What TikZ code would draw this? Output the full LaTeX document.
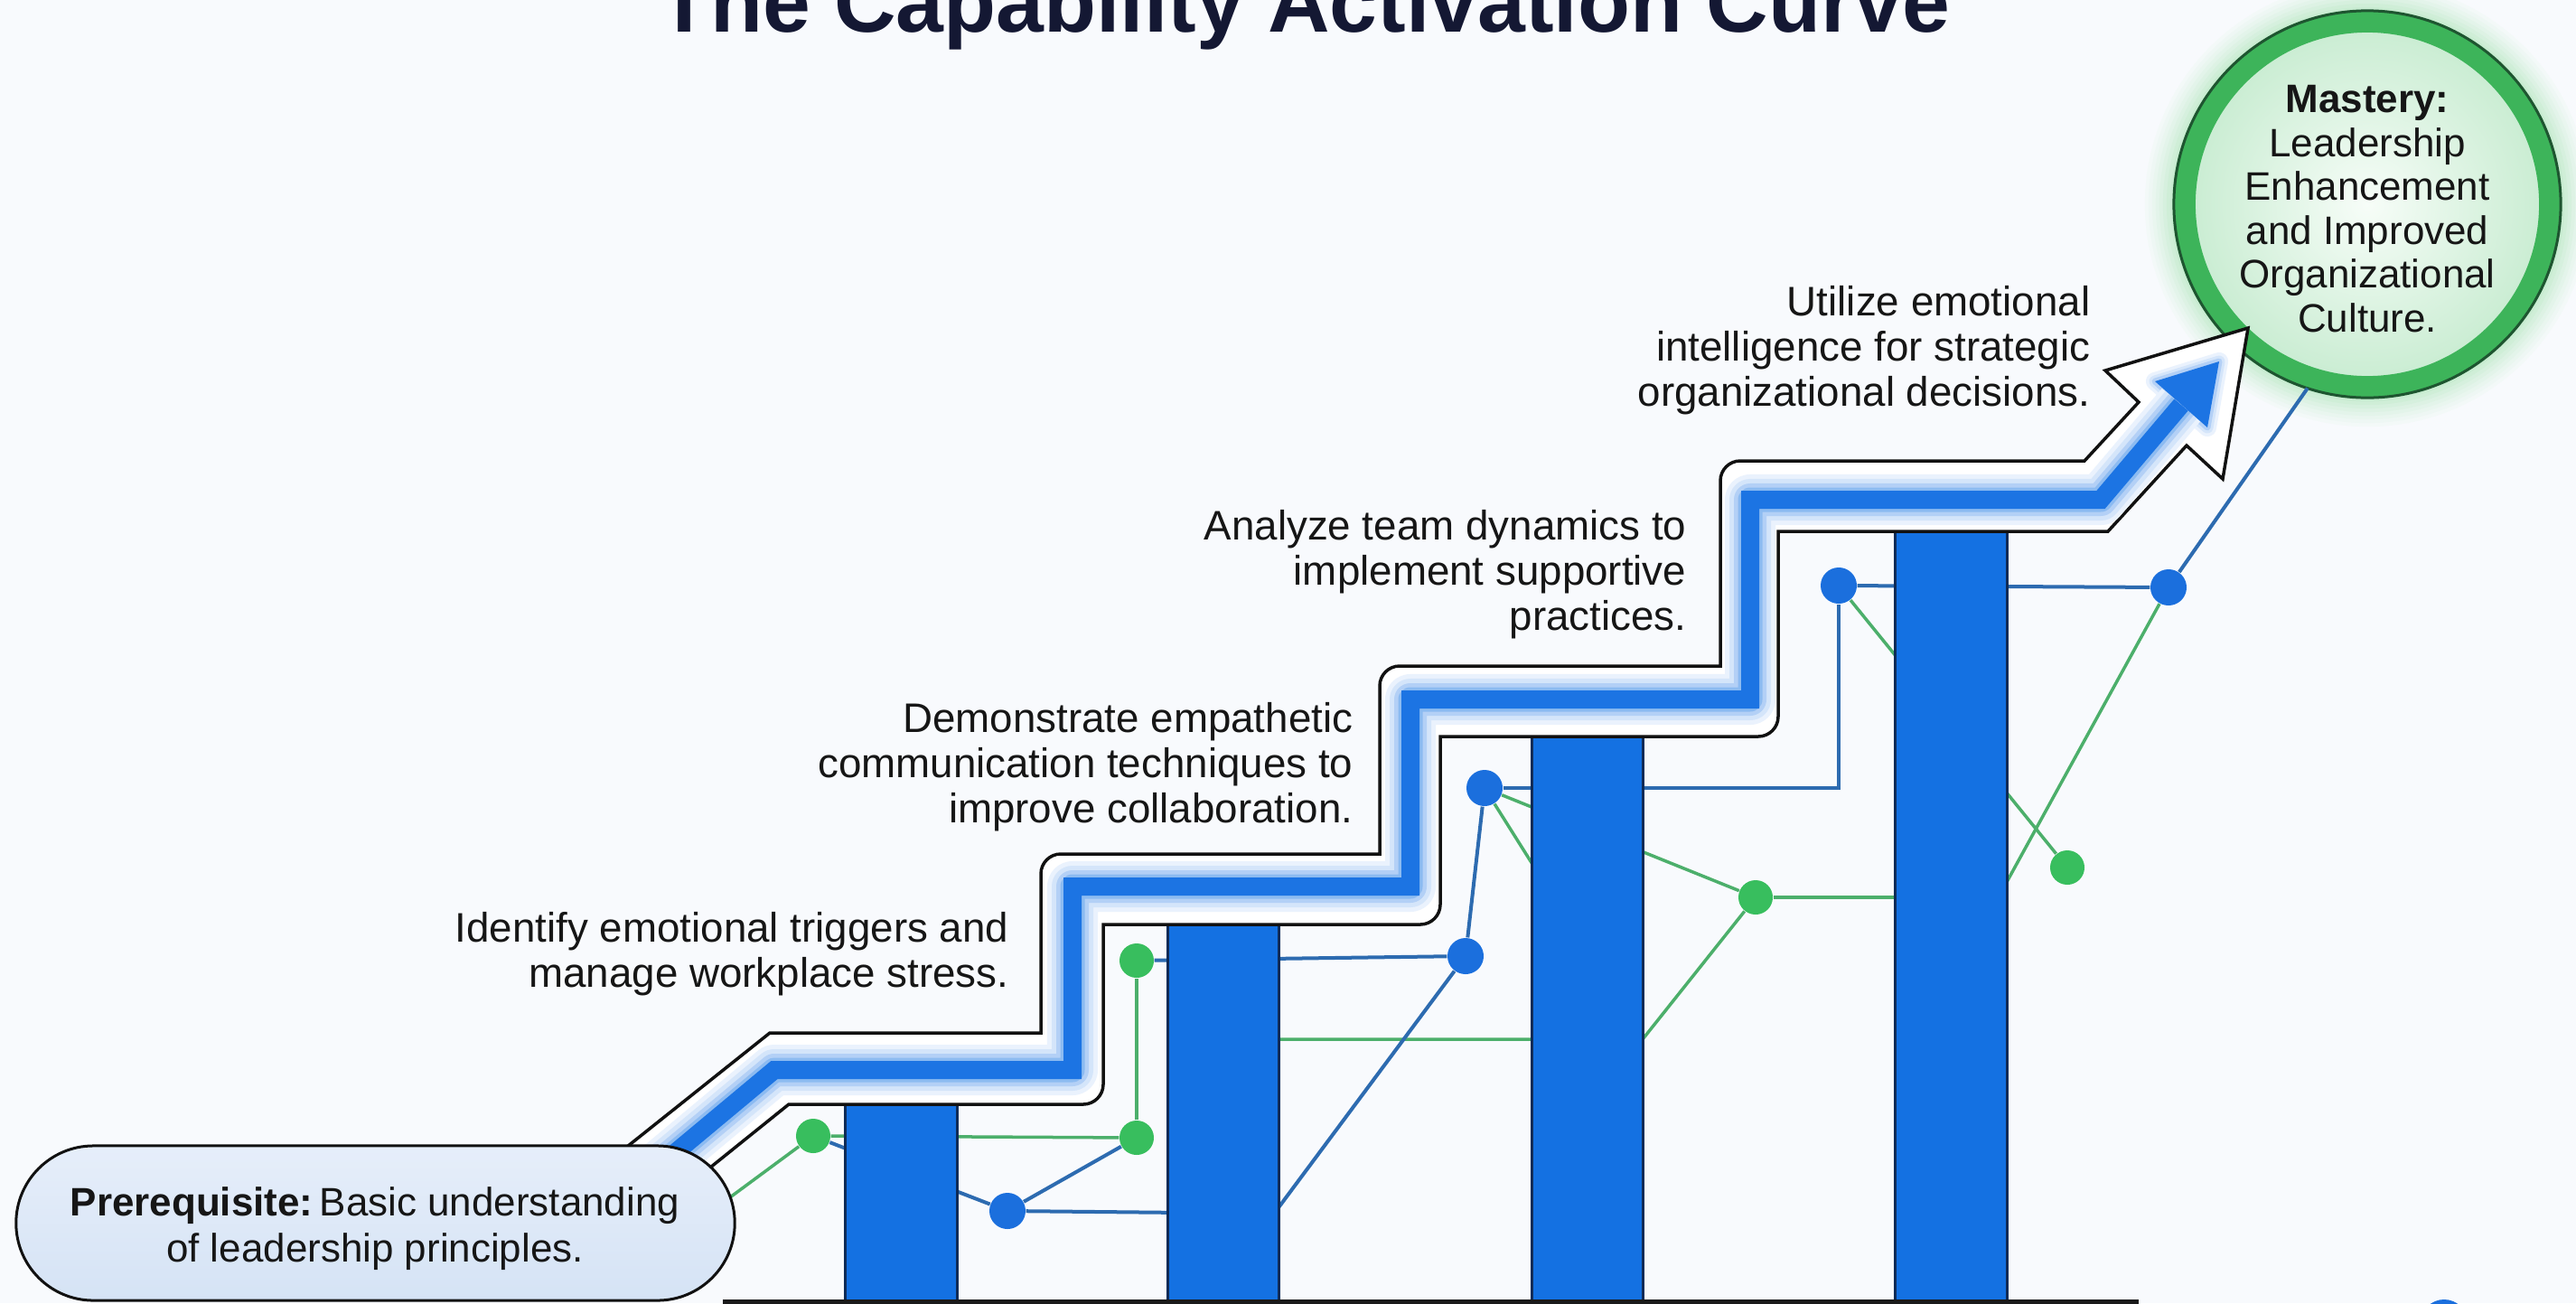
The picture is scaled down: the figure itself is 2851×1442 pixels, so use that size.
\documentclass[tikz,border=0pt]{standalone}
\usepackage{fontspec}
\setmainfont{Liberation Sans}
\definecolor{bgc}{HTML}{F8FAFD}
\definecolor{titlec}{HTML}{141833}
\definecolor{textc}{HTML}{161616}
\definecolor{barblue}{HTML}{1471E2}
\definecolor{barnavy}{HTML}{0E2B57}
\definecolor{bluedot}{HTML}{1B6FDD}
\definecolor{blueline}{HTML}{2D6BB0}
\definecolor{greendot}{HTML}{38BE5E}
\definecolor{greenline}{HTML}{4CAF6B}
\definecolor{outlc}{HTML}{111111}
\definecolor{corebl}{HTML}{1C74E3}
\definecolor{glowA}{HTML}{EAF2FD}
\definecolor{glowB}{HTML}{D4E5FA}
\definecolor{glowC}{HTML}{B3D0F6}
\definecolor{glowD}{HTML}{8CBBF1}
\definecolor{pilltop}{HTML}{E6EEFA}
\definecolor{pillbot}{HTML}{D5E3F5}
\definecolor{ringc}{HTML}{3DB45A}
\definecolor{ringdark}{HTML}{1E5530}
\definecolor{cfin}{HTML}{F7FDF8}
\definecolor{cfout}{HTML}{C8ECD1}
\definecolor{cglowc}{HTML}{C6EBCF}
\definecolor{axisc}{HTML}{1A1A1A}
\newcommand\labfont{\fontsize{13pt}{14.2pt}\selectfont}
\newcommand\circfont{\fontsize{12.5pt}{13.8pt}\selectfont}
\newcommand\pillfont{\fontsize{12.5pt}{14.5pt}\selectfont}
\newcommand\ttlfont{\fontsize{27pt}{30pt}\selectfont\bfseries}
\tikzset{
  gline/.style={draw=greenline, line width=0.035cm},
  bline/.style={draw=blueline, line width=0.04cm},
  gdot/.style={circle, fill=greendot, minimum size=0.38cm, inner sep=0pt},
  bdot/.style={circle, fill=bluedot, minimum size=0.40cm, inner sep=0pt},
  barbox/.style={fill=barblue, draw=barnavy, line width=0.03cm},
  lab/.style={font=\labfont, align=right, anchor=north east, inner sep=0pt, text=textc},
  pillbox/.style={rectangle, minimum width=7.95cm, minimum height=1.71cm, rounded corners=0.855cm,
    top color=pilltop, bottom color=pillbot, draw=outlc, line width=0.03cm, inner sep=0pt},
}
\begin{document}
\begin{tikzpicture}[x=0.01cm, y=-0.01cm]
\useasboundingbox (0,0) rectangle (2851,1442);
\fill[bgc] (0,0) rectangle (2851,1442);

% mastery circle
\node[circle, minimum size=4.28cm, inner sep=0pt, outer sep=0pt] (mastery) at (2620,226) {};
\foreach \r/\p in {2.46/10, 2.42/20, 2.38/30, 2.34/42, 2.30/55, 2.26/68, 2.22/82, 2.18/95}{
  \fill[cglowc!\p!bgc] (mastery.center) circle (\r cm);
}
\shade[inner color=cfin, outer color=cfout] (mastery.center) circle (2.02cm);
\draw[ringc, line width=0.24cm] (mastery.center) circle (2.02cm);
\draw[ringdark, line width=0.03cm] (mastery.center) circle (2.14cm);

% title
\node[font=\ttlfont, text=titlec, anchor=base, inner sep=0pt] (title) at (1443,35) {The Capability Activation Curve};

% dots
\node[gdot] (gd1) at (900,1257) {};
\node[gdot] (gd2) at (1258,1063) {};
\node[gdot] (gd3) at (1258,1259) {};
\node[gdot] (gd4) at (1943,993) {};
\node[gdot] (gd5) at (2288,960) {};
\node[bdot] (bd1) at (1115,1340) {};
\node[bdot] (bd2) at (1622,1058) {};
\node[bdot] (bd3) at (1643,872) {};
\node[bdot] (bd4) at (2035,648) {};
\node[bdot] (bd5) at (2400,650) {};
\node[bdot, minimum size=0.52cm] (bdx) at (2705,1464) {};

% hidden joints
\coordinate (pin) at (770,1353);
\coordinate (h2) at (1350,1150);
\coordinate (j3) at (1818,1150);
\coordinate (h4) at (2150,993);
\coordinate (h5) at (2160,1087);
\coordinate (k2) at (1410,1343);
\coordinate (k3) at (2035,872);

% network lines
\draw[gline] (pin) -- (gd1);
\draw[gline] (gd1) -- (gd3);
\draw[gline] (gd3) -- (gd2);
\draw[gline] (h2) -- (j3) -- (gd4);
\draw[gline] (bd3) -- (j3);
\draw[gline] (bd3) -- (gd4);
\draw[gline] (gd4) -- (h4);
\draw[gline] (bd4) -- (gd5);
\draw[gline] (bd5) -- (h5);
\draw[bline] (gd1) -- (bd1);
\draw[bline] (bd1) -- (gd3);
\draw[bline] (bd1) -- (k2) -- (bd2);
\draw[bline] (gd2) -- (bd2);
\draw[bline] (bd2) -- (bd3);
\draw[bline] (bd3) -- (k3) -- (bd4);
\draw[bline] (bd4) -- (bd5);
\draw[bline] (bd5) -- (mastery.-108);

% bars
\filldraw[barbox] (935,1222) rectangle (1059,1460);
\filldraw[barbox] (1292,1023) rectangle (1415,1460);
\filldraw[barbox] (1695,815) rectangle (1818,1460);
\filldraw[barbox] (2097,588) rectangle (2221,1460);

% axis
\coordinate (axl) at (800,1440);
\coordinate (axr) at (2367,1440);
\draw[axisc, line width=0.05cm] (axl) -- (axr);

% staircase arrow outline (convex corners rounded, concave corners sharp)
\draw[draw=outlc, line width=0.035cm, fill=white, line join=miter]
  (650,1304) -- (852,1143) -- (1152,1143)
  [rounded corners=0.22cm] -- (1152,945) [sharp corners] -- (1527,945)
  [rounded corners=0.22cm] -- (1527,737) [sharp corners] -- (1904,737)
  [rounded corners=0.22cm] -- (1904,510) [sharp corners] -- (2307,510)
  -- (2367,445) -- (2330,410) -- (2488,363) -- (2460,530) -- (2420,493) -- (2333,588)
  -- (1968,588) [rounded corners=0.22cm] -- (1968,815) [sharp corners] -- (1594,815)
  [rounded corners=0.22cm] -- (1594,1023) [sharp corners] -- (1221,1023)
  [rounded corners=0.22cm] -- (1221,1222) [sharp corners] -- (873,1222) -- (740,1329) -- cycle;

% blue core with glow
\path[preaction={draw=glowA, line width=0.20cm, line join=round},
      preaction={draw=glowB, line width=0.13cm, line join=round},
      preaction={draw=glowC, line width=0.07cm, line join=round}]
  (2456,400) -- (2385,422) -- (2443,473) -- cycle;
\draw[corebl, line width=0.2cm, line join=miter,
      preaction={draw=glowA, line width=0.56cm, line join=round},
      preaction={draw=glowB, line width=0.46cm, line join=round},
      preaction={draw=glowC, line width=0.36cm, line join=round},
      preaction={draw=glowD, line width=0.27cm, line join=round}]
  (700,1315) -- (857,1184) -- (1187,1184) -- (1187,981) -- (1561,981) -- (1561,774)
  -- (1937,774) -- (1937,553) -- (2325,553) -- (2414,448);
\fill[corebl] (2456,400) -- (2385,422) -- (2443,473) -- cycle;

% prerequisite pill
\node[pillbox] (pill) at (415.5,1353.5) {};
\node[font=\pillfont, align=center, text=textc, inner sep=0pt] (ptext) at (415,1360)
  {\textbf{Prerequisite:}\,Basic understanding\\of leadership principles.};

% mastery text
\node[font=\circfont, align=center, text=textc, inner sep=0pt] (mtext) at (2620,231)
  {\textbf{Mastery:}\\Leadership\\Enhancement\\and Improved\\Organizational\\Culture.};

% step labels
\node[lab] (l1) at (1117,1009) {Identify emotional triggers and\\manage workplace stress.};
\node[lab] (l2) at (1498,777) {Demonstrate empathetic\\communication techniques to\\improve collaboration.};
\node[lab] (l3) at (1867,564) {Analyze team dynamics to\\implement supportive\\practices.};
\node[lab] (l4) at (2314,316) {Utilize emotional\\intelligence for strategic\\organizational decisions.};
\end{tikzpicture}
\end{document}
